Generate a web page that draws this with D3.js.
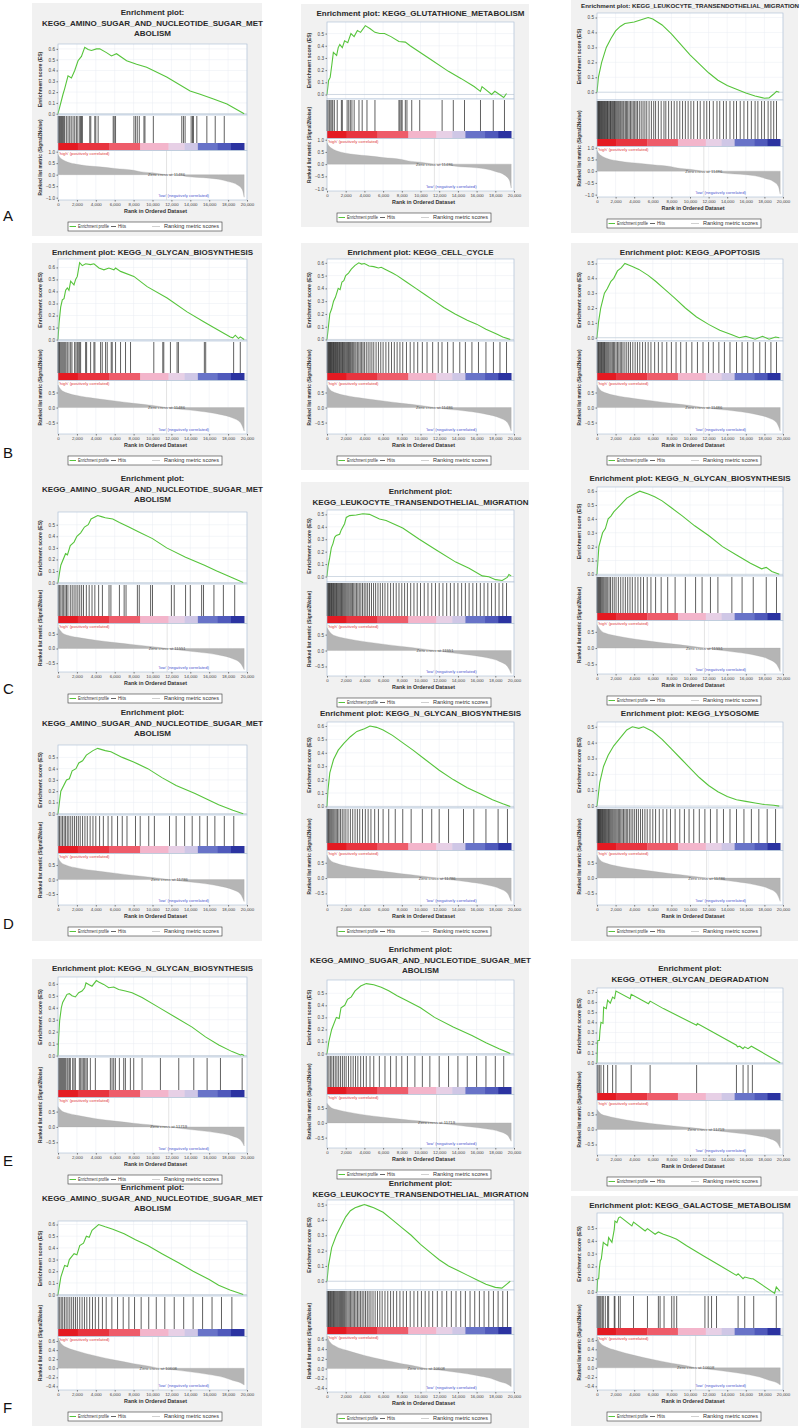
<!DOCTYPE html>
<html><head><meta charset="utf-8">
<script src="https://cdn.jsdelivr.net/npm/d3@7"></script>
<style>body{margin:0;background:#fff}svg{display:block}text{font-family:"Liberation Sans",Arial,sans-serif}</style>
</head><body><svg id="c" width="800" height="1428"></svg>
<script>
// ---------------- DATA ----------------
const xTickValues = [0,2000,4000,6000,8000,10000,12000,14000,16000,18000,20000];
const colorBarRanks = [0,2100,5400,8700,11700,13400,14800,16900,18300,19700];
const colorBarColors = ["#e41a22","#e8343f","#ee5c6a","#f3b5cb","#e7d0e6","#cfc7e6","#6873c8","#4f59bb","#2b33a1"];
const legendLabels = ["Enrichment profile","Hits","Ranking metric scores"];
const panelLetters = ["A","B","C","D","E","F"];

const T_AMINO = ["Enrichment plot:","KEGG_AMINO_SUGAR_AND_NUCLEOTIDE_SUGAR_MET","ABOLISM"];
const T_GLUT = ["Enrichment plot: KEGG_GLUTATHIONE_METABOLISM"];
const T_LEUK1 = ["Enrichment plot: KEGG_LEUKOCYTE_TRANSENDOTHELIAL_MIGRATION"];
const T_LEUK2 = ["Enrichment plot:","KEGG_LEUKOCYTE_TRANSENDOTHELIAL_MIGRATION"];
const T_NGLY = ["Enrichment plot: KEGG_N_GLYCAN_BIOSYNTHESIS"];
const T_CELL = ["Enrichment plot: KEGG_CELL_CYCLE"];
const T_APOP = ["Enrichment plot: KEGG_APOPTOSIS"];
const T_LYSO = ["Enrichment plot: KEGG_LYSOSOME"];
const T_OTHER = ["Enrichment plot:","KEGG_OTHER_GLYCAN_DEGRADATION"];
const T_GALA = ["Enrichment plot: KEGG_GALACTOSE_METABOLISM"];

// ranked list metric per row (rank, value)
const metric_A = [[0,0.88],[200,0.75],[500,0.65],[1000,0.55],[2000,0.45],[3000,0.39],[4400,0.34],[6000,0.27],[8000,0.19],[8700,0.13],[10000,0.08],[11486,0],[13000,-0.02],[13600,-0.08],[16000,-0.15],[17000,-0.2],[18000,-0.3],[19000,-0.45],[19500,-0.65],[19700,-0.98]];
const metric_B = [[0,0.75],[300,0.6],[1000,0.48],[2000,0.4],[4000,0.3],[6000,0.22],[8000,0.14],[10000,0.07],[11486,0],[13000,-0.06],[15000,-0.12],[17000,-0.22],[18500,-0.35],[19300,-0.5],[19700,-0.78]];
const metric_C = [[0,0.72],[500,0.52],[1000,0.45],[2000,0.38],[4000,0.28],[6000,0.2],[8000,0.13],[10000,0.06],[11551,0],[13000,-0.06],[15000,-0.13],[17000,-0.22],[18500,-0.35],[19300,-0.5],[19700,-0.72]];
const metric_D = [[0,0.75],[300,0.6],[1000,0.48],[2000,0.4],[4000,0.3],[6000,0.22],[8000,0.14],[10000,0.07],[11786,0],[13000,-0.05],[15000,-0.12],[17000,-0.22],[18500,-0.35],[19300,-0.5],[19700,-0.76]];
const metric_E = [[0,0.66],[500,0.5],[1000,0.45],[2000,0.38],[4000,0.27],[6000,0.19],[8000,0.12],[10000,0.06],[11719,0],[13000,-0.05],[15000,-0.12],[17000,-0.2],[18500,-0.3],[19300,-0.42],[19700,-0.62]];
const metric_F = [[0,0.67],[300,0.55],[1000,0.45],[2000,0.38],[4000,0.27],[6000,0.18],[8000,0.1],[10000,0.03],[10608,0],[12000,-0.03],[14000,-0.08],[16000,-0.14],[17500,-0.2],[18500,-0.27],[19300,-0.32],[19700,-0.37]];
const metricTicks_A = [1.0,0.5,0.0,-0.5,-1.0];
const metricTicks_B = [0.5,0.0,-0.5];
const metricTicks_C = [0.5,0.0,-0.5];
const metricTicks_D = [0.5,0.0,-0.5];
const metricTicks_E = [0.5,0.0,-0.5];
const metricTicks_F = [0.6,0.4,0.2,0.0,-0.2,-0.4];
const metricDomain_A = [-1.1,1.05];
const metricDomain_B = [-0.88,0.9];
const metricDomain_C = [-0.8,0.85];
const metricDomain_D = [-0.88,0.9];
const metricDomain_E = [-0.85,0.96];
const metricDomain_F = [-0.48,0.7];
const zeroCross_A = 11486, zeroCross_B = 11486, zeroCross_C = 11551, zeroCross_D = 11786, zeroCross_E = 11719, zeroCross_F = 10608;

// running enrichment score (rank, ES)
const es_A1 = [[0,0],[180,0.06],[530,0.18],[700,0.23],[1060,0.35],[1420,0.33],[1770,0.4],[2120,0.49],[2480,0.53],[2830,0.615],[3190,0.595],[3540,0.585],[4070,0.6],[4420,0.6],[5130,0.565],[5660,0.535],[6190,0.555],[7260,0.49],[8320,0.457],[9380,0.43],[11500,0.34],[13980,0.21],[15040,0.18],[16460,0.137],[17880,0.09],[19700,0]];
const es_A2 = [[0,0],[170,0.115],[340,0.14],[510,0.24],[680,0.345],[1030,0.32],[1200,0.385],[1370,0.41],[1640,0.385],[1880,0.44],[2220,0.425],[2560,0.5],[2900,0.475],[3250,0.525],[3590,0.51],[4100,0.565],[4620,0.54],[5130,0.51],[5640,0.5],[6150,0.5],[6840,0.475],[7690,0.435],[8380,0.43],[8890,0.4],[10940,0.295],[12990,0.19],[14360,0.13],[15730,0.065],[16410,0.026],[16580,0.065],[17610,0],[17950,0.026],[18900,-0.025],[19200,0.008]];
const es_A3 = [[0,0],[150,0.1],[500,0.2],[1000,0.3],[1500,0.36],[2000,0.41],[2500,0.44],[3000,0.46],[3500,0.465],[4000,0.47],[4500,0.48],[5000,0.49],[5500,0.5],[6000,0.49],[7000,0.45],[8000,0.39],[9000,0.32],[10000,0.25],[11000,0.19],[12000,0.13],[13000,0.08],[14000,0.045],[15000,0.02],[16000,-0.005],[17000,-0.025],[18000,-0.04],[18500,-0.038],[19000,-0.012],[19300,0.006],[19600,0]];
const es_B1 = [[0,0],[106,0.134],[282,0.27],[458,0.33],[634,0.34],[810,0.41],[986,0.43],[1162,0.41],[1338,0.485],[1690,0.455],[1866,0.5],[2042,0.525],[2288,0.64],[2570,0.615],[2922,0.63],[3450,0.623],[3802,0.63],[4330,0.595],[4858,0.58],[5386,0.595],[5914,0.58],[6090,0.595],[6618,0.567],[8026,0.525],[9434,0.44],[11546,0.345],[13658,0.23],[15418,0.148],[16474,0.1],[18234,0.022],[18500,0.014],[18762,0.036],[19100,0.008],[19290,0.022],[19700,0]];
const es_B2 = [[0,0],[150,0.1],[300,0.2],[500,0.24],[700,0.3],[900,0.33],[1200,0.4],[1400,0.39],[1600,0.45],[1800,0.46],[2000,0.5],[2300,0.52],[2600,0.55],[3000,0.58],[3400,0.6],[3700,0.59],[4000,0.595],[4500,0.575],[5000,0.57],[5500,0.56],[5800,0.565],[6200,0.55],[7000,0.52],[7500,0.5],[8500,0.45],[9500,0.4],[10500,0.35],[11500,0.3],[12500,0.25],[13700,0.2],[15000,0.15],[16000,0.12],[17000,0.08],[18200,0.04],[18800,0.02],[19600,0]];
const es_B3 = [[0,0],[150,0.1],[400,0.2],[800,0.3],[1100,0.33],[1500,0.38],[1800,0.4],[2200,0.45],[2600,0.47],[3000,0.5],[3400,0.49],[3800,0.48],[4500,0.46],[5500,0.42],[6300,0.38],[7200,0.33],[8300,0.27],[9500,0.2],[10700,0.14],[12000,0.09],[13200,0.05],[14500,0.02],[15300,0],[16000,0.01],[17000,-0.01],[17800,0.01],[18500,-0.01],[19200,0.005],[19600,0]];
const es_C1 = [[0,0],[150,0.08],[300,0.15],[800,0.25],[1000,0.24],[1300,0.32],[1700,0.35],[2000,0.4],[2400,0.43],[2800,0.48],[3200,0.5],[3500,0.55],[4200,0.58],[4600,0.57],[5000,0.56],[5800,0.55],[6500,0.52],[7500,0.48],[8500,0.44],[10000,0.38],[11500,0.3],[13500,0.22],[15500,0.15],[16800,0.1],[18200,0.05],[19600,0]];
const es_C2 = [[0,0],[106,0.08],[284,0.15],[462,0.23],[640,0.265],[817,0.315],[994,0.33],[1350,0.34],[1526,0.375],[1880,0.425],[2060,0.475],[2414,0.49],[3124,0.495],[3834,0.505],[4544,0.5],[5610,0.462],[6320,0.45],[8094,0.39],[9870,0.3],[11644,0.215],[13774,0.116],[15194,0.067],[16614,0.005],[17300,-0.002],[18034,-0.025],[18744,-0.032],[19276,-0.007],[19454,0.017],[19700,0.005]];
const es_C3 = [[0,0],[100,0.1],[200,0.2],[600,0.3],[900,0.33],[1200,0.4],[1500,0.42],[1800,0.45],[2500,0.5],[3200,0.55],[4000,0.58],[4600,0.6],[5500,0.58],[6200,0.56],[7000,0.53],[8000,0.48],[9200,0.42],[10500,0.35],[12000,0.28],[13500,0.2],[15000,0.14],[16500,0.08],[17700,0.04],[18200,0.05],[18800,0.02],[19600,0]];
const es_D1 = [[0,0],[300,0.2],[900,0.3],[1200,0.31],[1500,0.38],[1900,0.4],[2200,0.45],[2600,0.47],[3000,0.52],[3700,0.56],[4200,0.58],[5000,0.56],[5600,0.55],[6800,0.5],[8000,0.46],[9500,0.4],[11000,0.32],[12500,0.25],[14500,0.18],[16000,0.12],[17000,0.08],[18500,0.03],[19600,0]];
const es_D2 = [[0,0],[100,0.12],[300,0.25],[700,0.35],[1200,0.42],[1800,0.47],[2500,0.52],[3200,0.56],[4000,0.58],[4600,0.6],[5300,0.59],[6000,0.57],[7000,0.53],[8000,0.48],[9200,0.42],[10500,0.35],[12000,0.27],[13500,0.2],[15000,0.14],[16500,0.09],[17700,0.05],[18800,0.02],[19600,0]];
const es_D3 = [[0,0],[300,0.15],[700,0.25],[1200,0.32],[1800,0.38],[2500,0.43],[3200,0.48],[3800,0.5],[4500,0.49],[5000,0.5],[6000,0.47],[7000,0.42],[8000,0.36],[9000,0.3],[10000,0.24],[11000,0.18],[12000,0.13],[13000,0.09],[14000,0.06],[15000,0.04],[16000,0.03],[17000,0.02],[18000,0.01],[19000,0.005],[19600,0]];
const es_E1 = [[0,0],[70,0.156],[176,0.293],[353,0.4],[494,0.444],[777,0.485],[953,0.512],[1200,0.518],[1483,0.5],[1836,0.49],[2189,0.526],[2542,0.54],[2824,0.567],[2965,0.608],[3248,0.595],[3600,0.58],[4060,0.627],[4307,0.616],[4836,0.595],[5366,0.567],[5895,0.573],[6425,0.553],[7131,0.54],[7837,0.526],[8896,0.485],[10660,0.403],[12426,0.32],[14190,0.238],[15602,0.156],[17015,0.088],[18427,0.033],[19310,0.005],[19450,0.01],[19700,0]];
const es_E2 = [[0,0],[200,0.1],[500,0.2],[1000,0.3],[1300,0.29],[1500,0.38],[1900,0.4],[2200,0.45],[2600,0.47],[3000,0.52],[3600,0.56],[4200,0.58],[5000,0.57],[5800,0.55],[6600,0.52],[7500,0.48],[8500,0.44],[10000,0.38],[11500,0.3],[13500,0.22],[15500,0.15],[17000,0.09],[18400,0.04],[19600,0]];
const es_E3 = [[0,0],[71,0.22],[250,0.22],[321,0.32],[428,0.4],[643,0.39],[714,0.55],[1000,0.535],[1142,0.62],[1428,0.59],[1678,0.65],[1892,0.635],[2035,0.71],[3570,0.635],[3678,0.677],[5535,0.585],[5713,0.61],[7140,0.536],[10710,0.372],[10790,0.388],[15000,0.174],[15100,0.158],[15350,0.164],[15700,0.14],[15880,0.158],[16240,0.14],[16600,0.164],[19700,0]];
const es_F1 = [[0,0],[300,0.15],[700,0.25],[1000,0.24],[1200,0.3],[1700,0.35],[2000,0.34],[2300,0.42],[2700,0.44],[3000,0.5],[3300,0.49],[3600,0.55],[4300,0.6],[5000,0.58],[5800,0.56],[7000,0.52],[8200,0.47],[9500,0.42],[11000,0.35],[12800,0.27],[14300,0.2],[16000,0.13],[17000,0.08],[18200,0.04],[19600,0]];
const es_F2 = [[0,0],[150,0.1],[500,0.22],[1000,0.3],[1500,0.36],[2000,0.42],[2500,0.46],[3000,0.48],[3500,0.49],[4000,0.5],[4500,0.49],[5000,0.48],[6000,0.45],[7000,0.4],[8000,0.35],[9000,0.3],[10000,0.24],[11000,0.19],[12000,0.14],[13000,0.1],[14000,0.07],[15000,0.04],[16000,0.01],[17000,-0.02],[18000,-0.04],[18700,-0.045],[19200,-0.02],[19600,0]];
const es_F3 = [[0,0],[71,0.103],[180,0.103],[250,0.18],[357,0.245],[464,0.258],[571,0.323],[678,0.388],[893,0.375],[1142,0.362],[1250,0.426],[1607,0.388],[1856,0.49],[1928,0.556],[2142,0.543],[2320,0.581],[2500,0.589],[3750,0.517],[3927,0.548],[5177,0.478],[5426,0.496],[6247,0.452],[6600,0.47],[7140,0.452],[7854,0.434],[8568,0.413],[9639,0.362],[11424,0.284],[13209,0.207],[14994,0.129],[15173,0.142],[15700,0.103],[15887,0.116],[16600,0.103],[16779,0.103],[19100,-0.013],[19278,0.039],[19650,0.005]];

// gene-set hit ranks
const hits_A1 = [20,100,177,280,354,450,531,620,708,885,1062,1239,1400,1593,1770,1947,2100,2301,2400,2478,2584,3363,3469,3894,4000,4248,5841,5947,6088,8035,8212,8389,8602,9097,9203,10089,13097,13274,13451,14088,14230,14336,14690,15752,16637,17593];
const hits_A2 = [0,103,239,342,513,616,787,1094,1539,1641,2154,2325,2496,2667,2906,3420,3762,4275,5130,7695,7798,7934,8037,8379,8550,9063,9918,12312,13509,14706,16416,17784,18981];
const hits_A3 = [30,90,150,210,260,330,400,460,520,600,680,750,820,900,980,1050,1130,1200,1290,1380,1450,1530,1620,1700,1790,1880,1960,2050,2150,2250,2350,2460,2560,2680,2800,2900,3050,3180,3300,3450,3600,3750,3900,4050,4200,4350,4550,4750,4950,5150,5350,5600,5850,6100,6300,6600,6900,7200,7400,7700,8000,8300,8600,8900,9200,9500,9800,10100,10400,10800,11100,11500,11800,12100,12500,12900,13200,13600,13900,14300,14700,15000,15400,15800,16200,16600,17000,17300,17700,18000,18400,18700,19000,19300];
const hits_B1 = [0,70,141,211,317,422,528,634,739,845,986,1162,1338,1478,1760,1901,2042,2147,2288,2394,2922,3027,3450,3802,3907,4506,4682,5034,5210,5632,5738,6090,6618,7146,7674,10138,11088,11194,11898,12602,12742,15488,15629,18586,19290];
const hits_B2 = [20,80,140,200,260,320,380,440,500,560,630,700,760,830,900,970,1040,1110,1180,1260,1340,1420,1500,1580,1660,1740,1820,1900,2000,2100,2200,2300,2400,2500,2600,2720,2850,2980,3100,3250,3400,3550,3700,3850,4000,4200,4400,4600,4800,5000,5250,5500,5750,6000,6300,6600,6900,7200,7500,7800,8100,8500,8900,9300,9700,10200,10700,11300,11900,12300,12900,13500,14200,14800,15500,16200,17000,17800,18500,19200];
const hits_B3 = [30,100,170,240,320,400,480,560,640,720,800,880,980,1080,1180,1280,1400,1520,1650,1780,1900,2050,2200,2350,2500,2650,2800,3000,3200,3400,3600,3850,4100,4350,4600,4900,5200,5500,5800,6200,6600,7000,7500,8000,8500,9000,9600,10200,10800,11400,12000,12500,13100,13700,14300,15000,15600,16200,16800,17500,18100,18700,19300];
const hits_C1 = [30,150,300,450,600,750,900,1050,1300,1500,1700,1900,2100,2300,2500,2700,3000,3300,3600,3900,4300,4700,5400,5600,6500,7000,7200,8400,8600,9800,10000,12000,12300,13500,14000,15200,15400,16500,17500,18700];
const hits_C2 = [20,80,140,200,270,340,410,480,550,620,700,780,860,940,1020,1100,1190,1280,1370,1460,1550,1640,1730,1830,1930,2030,2140,2250,2360,2480,2600,2730,2860,3000,3150,3300,3450,3620,3800,3980,4160,4350,4550,4760,4980,5200,5450,5700,5950,6200,6500,6800,7100,7400,7700,8000,8300,8600,8950,9300,9650,10000,10400,10800,11200,11600,12000,12400,12800,13200,13600,14000,14400,14800,15200,15600,16000,16400,16800,17200,17600,18000,18400,18800,19200];
const hits_C3 = [0,60,130,200,280,370,460,560,660,760,880,1000,1150,1300,1450,1650,1850,2050,2300,2550,2800,3050,3300,3550,3800,4100,4400,4700,5000,5400,5800,6300,6900,7600,8400,9500,10600,11300,12200,13000,14500,15600,16800,18200,19300];
const hits_D1 = [30,160,320,480,650,800,980,1150,1350,1550,1750,1950,2150,2350,2600,2850,3100,3400,3700,4000,4400,4800,5300,5700,6300,6800,7300,8200,8700,9600,10200,11800,12500,13400,14200,15000,15800,16600,17600,18600];
const hits_D2 = [0,70,150,230,320,420,520,630,740,860,990,1130,1280,1450,1630,1820,2020,2250,2500,2750,3000,3250,3500,3800,4100,4400,4700,5100,5500,6000,6600,7300,8100,9000,10200,11200,12000,13000,14600,15700,17000,18300,19300];
const hits_D3 = [20,70,120,170,220,280,340,400,460,530,600,670,740,820,900,980,1060,1150,1240,1330,1420,1520,1620,1720,1830,1940,2050,2170,2300,2430,2560,2700,2850,3000,3150,3300,3480,3660,3850,4050,4250,4450,4680,4900,5150,5400,5700,6000,6300,6700,7100,7500,7900,8400,8900,9400,9900,10400,11000,11600,12200,12900,13600,14300,15000,15800,16600,17400,18300,19200];
const hits_E1 = [71,176,282,388,494,600,706,812,953,1059,1200,1306,1553,1694,1836,2259,2400,2542,2683,2824,2965,3106,3424,3954,5542,5719,5895,6072,6495,6954,7131,7660,8013,8896,10837,12779,14367,15779,17191,19486];
const hits_E2 = [40,200,360,520,700,880,1060,1250,1450,1650,1850,2050,2300,2550,2800,3050,3300,3600,3900,4200,4600,5000,5600,6200,6800,7400,8000,8600,9400,10200,11000,12000,13000,14000,15000,16000,17000,18000,18900];
const hits_E3 = [20,107,250,428,714,1142,1678,2035,3678,5712,10710,14994,15708,16243,16707];
const hits_F1 = [30,180,340,500,680,860,1050,1250,1450,1650,1850,2050,2300,2550,2800,3050,3350,3650,3950,4300,4700,5100,5700,6300,6900,7500,8100,8800,9600,10400,11300,12300,13300,14300,15300,16300,17300,18400];
const hits_F2 = [20,90,160,230,300,380,460,540,620,700,790,880,970,1060,1150,1250,1350,1450,1550,1660,1770,1880,2000,2120,2250,2380,2520,2660,2800,2950,3100,3260,3420,3590,3760,3940,4120,4310,4500,4700,4920,5150,5400,5650,5900,6200,6500,6800,7100,7450,7800,8150,8500,8900,9300,9700,10100,10500,10900,11300,11800,12300,12800,13300,13800,14300,14800,15300,15800,16300,16800,17300,17800,18300,18800,19300];
const hits_F3 = [20,107,214,321,428,571,678,893,1142,1250,1856,1928,2320,2500,3927,5426,6600,6783,7211,8033,8282,8568,11603,11960,12317,12852,15173,15887,16850,19278];

// ---------------- LAYOUT (positions only) ----------------
const colLeft = [58, 327, 597];
const colRight = [247, 514, 783];
const layout = {
  A1:{tb:15,ts:8,top:44,esB:115,barT:143,bottom:200},
  A2:{tb:16,ts:8,top:22,esB:99,barT:131,bottom:191},
  A3:{tb:8,ts:6.2,top:13,esB:100,barT:139,bottom:197},
  B1:{tb:255,ts:8,top:259,esB:341,barT:373,bottom:434},
  B2:{tb:255,ts:8,top:259,esB:341,barT:373,bottom:434},
  B3:{tb:255,ts:8,top:259,esB:341,barT:373,bottom:434},
  C1:{tb:481,ts:8,top:512,esB:584,barT:616,bottom:672},
  C2:{tb:494,ts:8,top:510,esB:582,barT:616,bottom:676},
  C3:{tb:481,ts:8,top:487,esB:576,barT:613,bottom:674},
  D1:{tb:715,ts:8,top:745,esB:815,barT:846,bottom:905},
  D2:{tb:716,ts:8,top:722,esB:808,barT:843,bottom:905},
  D3:{tb:716,ts:8,top:722,esB:808,barT:843,bottom:905},
  E1:{tb:971,ts:8,top:977,esB:1057,barT:1090,bottom:1153},
  E2:{tb:952,ts:8,top:980,esB:1055,barT:1087,bottom:1148},
  E3:{tb:971,ts:8,top:988,esB:1064,barT:1093,bottom:1155},
  F1:{tb:1190,ts:8,top:1221,esB:1296,barT:1329,bottom:1390},
  F2:{tb:1186,ts:8,top:1200,esB:1290,barT:1327,bottom:1392},
  F3:{tb:1208,ts:8,top:1213,esB:1295,barT:1328,bottom:1390}
};
const letterY = [221,458,694,929,1166,1413];

// ---------------- BUILD ----------------
const rows = {
  A:{metric:metric_A,ticks:metricTicks_A,domain:metricDomain_A,zc:zeroCross_A},
  B:{metric:metric_B,ticks:metricTicks_B,domain:metricDomain_B,zc:zeroCross_B},
  C:{metric:metric_C,ticks:metricTicks_C,domain:metricDomain_C,zc:zeroCross_C},
  D:{metric:metric_D,ticks:metricTicks_D,domain:metricDomain_D,zc:zeroCross_D},
  E:{metric:metric_E,ticks:metricTicks_E,domain:metricDomain_E,zc:zeroCross_E},
  F:{metric:metric_F,ticks:metricTicks_F,domain:metricDomain_F,zc:zeroCross_F}
};
const panels = [
  ["A1",T_AMINO,es_A1,hits_A1],["A2",T_GLUT,es_A2,hits_A2],["A3",T_LEUK1,es_A3,hits_A3],
  ["B1",T_NGLY,es_B1,hits_B1],["B2",T_CELL,es_B2,hits_B2],["B3",T_APOP,es_B3,hits_B3],
  ["C1",T_AMINO,es_C1,hits_C1],["C2",T_LEUK2,es_C2,hits_C2],["C3",T_NGLY,es_C3,hits_C3],
  ["D1",T_AMINO,es_D1,hits_D1],["D2",T_NGLY,es_D2,hits_D2],["D3",T_LYSO,es_D3,hits_D3],
  ["E1",T_NGLY,es_E1,hits_E1],["E2",T_AMINO,es_E2,hits_E2],["E3",T_OTHER,es_E3,hits_E3],
  ["F1",T_AMINO,es_F1,hits_F1],["F2",T_LEUK2,es_F2,hits_F2],["F3",T_GALA,es_F3,hits_F3]
];

const svg = d3.select("#c");
const bgLayer = svg.append("g");
const FRAME = "#a9bdd3", GRID = "#e9edf2", GREEN = "#56c43b";

function drawPanel([id, title, es, hits]) {
  const row = rows[id[0]], col = +id[1]-1, Ly = layout[id];
  const L = colLeft[col], R = colRight[col];
  const x = d3.scaleLinear().domain([0,20000]).range([L,R]);
  const bgTop = Ly.tb - 12, bgBot = Ly.bottom + 36;
  bgLayer.append("rect").attr("x",L-26).attr("y",bgTop).attr("width",R-L+41).attr("height",bgBot-bgTop).attr("fill","#f1f1f1");
  const g = svg.append("g");
  // title
  title.forEach((t,i)=>g.append("text").attr("x",(L+R)/2).attr("y",Ly.tb+i*10.5)
    .attr("text-anchor","middle").attr("font-size",Ly.ts).attr("font-weight","bold").attr("fill","#2a2a2a").text(t));
  // ES plot
  const esMin = d3.min(es,d=>d[1]), esMax = d3.max(es,d=>d[1]);
  const y = d3.scaleLinear().domain([Math.min(0,esMin)-0.012, esMax+0.03]).range([Ly.esB, Ly.top]);
  g.append("rect").attr("x",L).attr("y",Ly.top).attr("width",R-L).attr("height",Ly.esB-Ly.top).attr("fill","#fff");
  const esTicks = d3.range(0, esMax+0.0001, 0.1);
  g.append("g").selectAll("line").data(xTickValues).join("line")
    .attr("x1",d=>x(d)).attr("x2",d=>x(d)).attr("y1",Ly.top).attr("y2",Ly.esB).attr("stroke",GRID).attr("stroke-width",0.5);
  g.append("g").selectAll("line").data(esTicks).join("line")
    .attr("x1",L).attr("x2",R).attr("y1",d=>y(d)).attr("y2",d=>y(d)).attr("stroke",GRID).attr("stroke-width",0.5);
  g.append("line").attr("x1",L).attr("x2",R).attr("y1",y(0)).attr("y2",y(0)).attr("stroke","#b9c6d4").attr("stroke-width",0.6);
  g.append("path").datum(es).attr("fill","none").attr("stroke",GREEN).attr("stroke-width",1.1)
    .attr("d",d3.line().x(d=>x(d[0])).y(d=>y(d[1])));
  g.append("rect").attr("x",L).attr("y",Ly.top).attr("width",R-L).attr("height",Ly.esB-Ly.top).attr("fill","none").attr("stroke",FRAME).attr("stroke-width",0.6);
  const ya = g.append("g").attr("transform",`translate(${L},0)`)
    .call(d3.axisLeft(y).tickValues(esTicks).tickFormat(d3.format(".1f")).tickSize(1.5).tickPadding(1.5));
  ya.select(".domain").remove();
  ya.selectAll("text").attr("font-size",4.6).attr("fill","#444").style("font-family","Liberation Sans, Arial");
  ya.selectAll("line").attr("stroke","#777");
  g.append("text").attr("transform",`translate(${L-16},${(Ly.top+Ly.esB)/2}) rotate(-90)`)
    .attr("text-anchor","middle").attr("font-size",5.2).attr("font-weight","bold").attr("fill","#333").text("Enrichment score (ES)");
  // hits
  g.append("rect").attr("x",L).attr("y",Ly.esB).attr("width",R-L).attr("height",Ly.barT-Ly.esB).attr("fill","#fff");
  g.append("g").selectAll("line").data(hits).join("line")
    .attr("x1",d=>x(d)).attr("x2",d=>x(d)).attr("y1",Ly.esB+1).attr("y2",Ly.barT)
    .attr("stroke","#1c1c1c").attr("stroke-width",0.7);
  // colour bar
  const barH = 7.5;
  g.append("g").selectAll("rect").data(colorBarColors).join("rect")
    .attr("x",(d,i)=>x(colorBarRanks[i])).attr("width",(d,i)=>x(colorBarRanks[i+1])-x(colorBarRanks[i])+0.3)
    .attr("y",Ly.barT).attr("height",barH).attr("fill",d=>d);
  g.append("rect").attr("x",L).attr("y",Ly.esB).attr("width",R-L).attr("height",Ly.barT+barH-Ly.esB).attr("fill","none").attr("stroke",FRAME).attr("stroke-width",0.6);
  // ranked list metric
  const rTop = Ly.barT+barH;
  const yr = d3.scaleLinear().domain(row.domain).range([Ly.bottom, rTop]);
  g.append("rect").attr("x",L).attr("y",rTop).attr("width",R-L).attr("height",Ly.bottom-rTop).attr("fill","#fff");
  g.append("g").selectAll("line").data(xTickValues).join("line")
    .attr("x1",d=>x(d)).attr("x2",d=>x(d)).attr("y1",rTop).attr("y2",Ly.bottom).attr("stroke",GRID).attr("stroke-width",0.5);
  g.append("path").datum(row.metric).attr("fill","#b5b5b5").attr("stroke","#a8a8a8").attr("stroke-width",0.3)
    .attr("d",d3.area().x(d=>x(d[0])).y0(yr(0)).y1(d=>yr(d[1])).curve(d3.curveMonotoneX));
  g.append("line").attr("x1",x(row.zc)).attr("x2",x(row.zc)).attr("y1",rTop).attr("y2",Ly.bottom).attr("stroke","#c8c8c8").attr("stroke-width",0.5);
  g.append("rect").attr("x",L).attr("y",rTop).attr("width",R-L).attr("height",Ly.bottom-rTop).attr("fill","none").attr("stroke",FRAME).attr("stroke-width",0.6);
  g.append("text").attr("x",x(row.zc)).attr("y",yr(0)+1.5).attr("text-anchor","middle").attr("font-size",4.2).attr("fill","#555").text("Zero cross at "+row.zc);
  g.append("text").attr("x",L+1).attr("y",rTop+4.2).attr("font-size",4.2).attr("fill","#e03a3a").text("'high' (positively correlated)");
  g.append("text").attr("x",x(13300)).attr("y",Ly.bottom-3).attr("text-anchor","middle").attr("font-size",4.2).attr("fill","#4a55d0").text("'low' (negatively correlated)");
  const ra = g.append("g").attr("transform",`translate(${L},0)`)
    .call(d3.axisLeft(yr).tickValues(row.ticks).tickFormat(d3.format(".1f")).tickSize(1.5).tickPadding(1.5));
  ra.select(".domain").remove();
  ra.selectAll("text").attr("font-size",4.6).attr("fill","#444").style("font-family","Liberation Sans, Arial");
  ra.selectAll("line").attr("stroke","#777");
  g.append("text").attr("transform",`translate(${L-16},${(Ly.esB+Ly.bottom)/2}) rotate(-90)`)
    .attr("text-anchor","middle").attr("font-size",4.8).attr("font-weight","bold").attr("fill","#333").text("Ranked list metric (Signal2Noise)");
  // x axis
  const xa = g.append("g").attr("transform",`translate(0,${Ly.bottom})`)
    .call(d3.axisBottom(x).tickValues(xTickValues).tickFormat(d3.format(",")).tickSize(1.5).tickPadding(1.5));
  xa.select(".domain").remove();
  xa.selectAll("text").attr("font-size",4.4).attr("fill","#444").style("font-family","Liberation Sans, Arial");
  xa.selectAll("line").attr("stroke","#777");
  g.append("text").attr("x",(L+R)/2+3).attr("y",Ly.bottom+13).attr("text-anchor","middle").attr("font-size",5.4).attr("font-weight","bold").attr("fill","#333").text("Rank in Ordered Dataset");
  // legend
  const lx = L+10, ly = Ly.bottom+22;
  g.append("rect").attr("x",lx).attr("y",ly).attr("width",154).attr("height",9).attr("fill","#fff").attr("stroke","#333").attr("stroke-width",0.6);
  const cy = ly+4.5;
  g.append("line").attr("x1",lx+1.5).attr("x2",lx+8).attr("y1",cy).attr("y2",cy).attr("stroke",GREEN).attr("stroke-width",1);
  g.append("line").attr("x1",lx+43).attr("x2",lx+48).attr("y1",cy).attr("y2",cy).attr("stroke","#222").attr("stroke-width",0.7);
  g.append("line").attr("x1",lx+84).attr("x2",lx+92).attr("y1",cy).attr("y2",cy).attr("stroke","#bbb").attr("stroke-width",0.7);
  const lt = [[lx+10,31],[lx+50,8],[lx+96,55]];
  legendLabels.forEach((t,i)=>g.append("text").attr("x",lt[i][0]).attr("y",cy+1.7).attr("font-size",5)
    .attr("textLength",lt[i][1]).attr("lengthAdjust","spacingAndGlyphs").attr("fill","#333").text(t));
}
panels.forEach(drawPanel);
panelLetters.forEach((l,i)=>svg.append("text").attr("x",3).attr("y",letterY[i]).attr("font-size",15).attr("fill","#111").text(l));
</script></body></html>
